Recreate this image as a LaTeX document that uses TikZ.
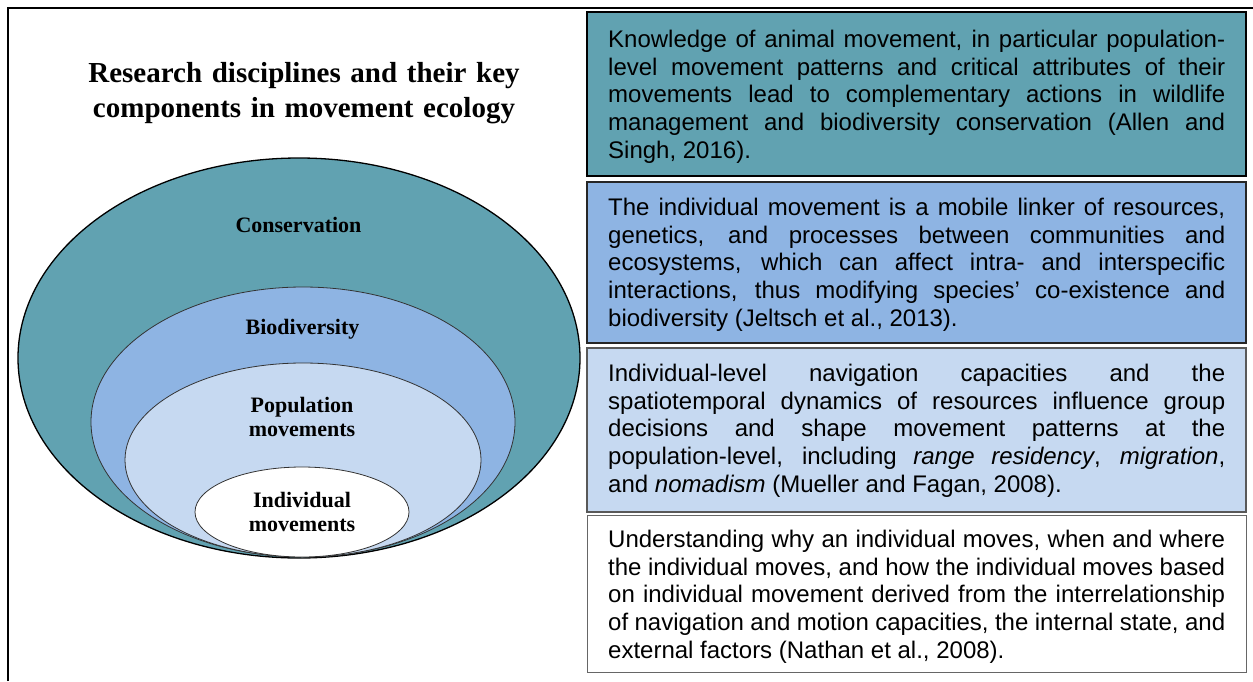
\documentclass[tikz,border=0pt]{standalone}
\usepackage{fontspec}
\setmainfont{Liberation Serif}
\newfontfamily\arial{Liberation Sans}
\usetikzlibrary{shapes.geometric}
\definecolor{tealc}{HTML}{61A2B1}
\definecolor{bluec}{HTML}{8EB4E3}
\definecolor{paleb}{HTML}{C6D9F1}
\begin{document}
\begin{tikzpicture}[x=1pt,y=-1pt,
  ring/.style={draw, ellipse, inner sep=0pt, outer sep=0pt},
  lab/.style={anchor=north, inner sep=0pt, text width=240pt, align=center,
    font=\fontsize{22}{24.5}\selectfont\bfseries},
  panel/.style={rectangle, anchor=north west, inner sep=0pt, outer sep=0pt, minimum width=659pt},
  ptext/.style={anchor=north west, inner sep=0pt, text width=617pt, align=justify,
    font=\arial\fontsize{24}{27.8}\selectfont}]
\useasboundingbox (0,0) rectangle (1253,681);
\fill[white] (0,0) rectangle (1253,681);
\tolerance=9999 \hbadness=10000 \hyphenpenalty=10000 \exhyphenpenalty=10000
% frame
\draw[line width=2pt] (8,681) -- (8,8) -- (1253,8);
% title
\node[anchor=north, inner sep=0pt, text width=480pt, align=center,
  font=\fontsize{29}{35}\selectfont\bfseries] (title) at (304,60)
  {\rule{0pt}{22pt}Research disciplines and their key\\components in movement ecology};
% nested ellipses
\node[ring, fill=tealc, line width=1.3pt, minimum width=562pt, minimum height=400pt] (cons) at (299,358) {};
\node[ring, fill=bluec, draw=black!80, line width=0.8pt, minimum width=424pt, minimum height=270pt] (bio) at (303,422) {};
\node[ring, fill=paleb, draw=black!80, line width=0.8pt, minimum width=356pt, minimum height=194pt] (pop) at (303,460) {};
\node[ring, fill=white, draw=black!80, line width=0.8pt, minimum width=214pt, minimum height=90pt] (ind) at (302,512) {};
% labels
\node[lab] (lcons) at (298.5,214) {\rule{0pt}{18pt}Conservation};
\node[lab] (lbio) at (302.5,316) {\rule{0pt}{18pt}Biodiversity};
\node[lab] (lpop) at (302,394) {\rule{0pt}{18pt}Population\\movements};
\node[lab] (lind) at (302,489) {\rule{0pt}{18pt}Individual\\movements};
% panels
\node[panel, fill=tealc, draw=black, line width=1.8pt, minimum height=164pt] (b1) at (587,12) {};
\node[panel, fill=bluec, draw=black!85, line width=1.8pt, minimum height=161pt] (b2) at (587,182) {};
\node[panel, fill=paleb, draw=black!65, line width=1.2pt, minimum height=164pt] (b3) at (587,348) {};
\node[panel, fill=white, draw=black!60, line width=1pt, minimum height=157pt] (b4) at (587,515) {};
% panel texts
\node[ptext] (t1) at ([xshift=21pt,yshift=-15pt]b1.north west)
  {\noindent\rule{0pt}{20pt}Knowledge of animal movement, in particular population-\linebreak
   level movement patterns and critical attributes of their\linebreak
   movements lead to complementary actions in wildlife\linebreak
   management and biodiversity conservation (Allen and\linebreak
   Singh, 2016).};
\node[ptext] (t2) at ([xshift=21pt,yshift=-13pt]b2.north west)
  {\noindent\rule{0pt}{20pt}The individual movement is a mobile linker of resources,\linebreak
   genetics, and processes between communities and\linebreak
   ecosystems, which can affect intra- and interspecific\linebreak
   interactions, thus modifying species’ co-existence and\linebreak
   biodiversity (Jeltsch et al., 2013).};
\node[ptext] (t3) at ([xshift=21pt,yshift=-13pt]b3.north west)
  {\noindent\rule{0pt}{20pt}Individual-level navigation capacities and the\linebreak
   spatiotemporal dynamics of resources influence group\linebreak
   decisions and shape movement patterns at the\linebreak
   population-level, including \textit{range residency}, \textit{migration},\linebreak
   and \textit{nomadism} (Mueller and Fagan, 2008).};
\node[ptext] (t4) at ([xshift=21pt,yshift=-12pt]b4.north west)
  {\noindent\rule{0pt}{20pt}Understanding why an individual moves, when and where\linebreak
   the individual moves, and how the individual moves based\linebreak
   on individual movement derived from the interrelationship\linebreak
   of navigation and motion capacities, the internal state, and\linebreak
   external factors (Nathan et al., 2008).};
\end{tikzpicture}
\end{document}
